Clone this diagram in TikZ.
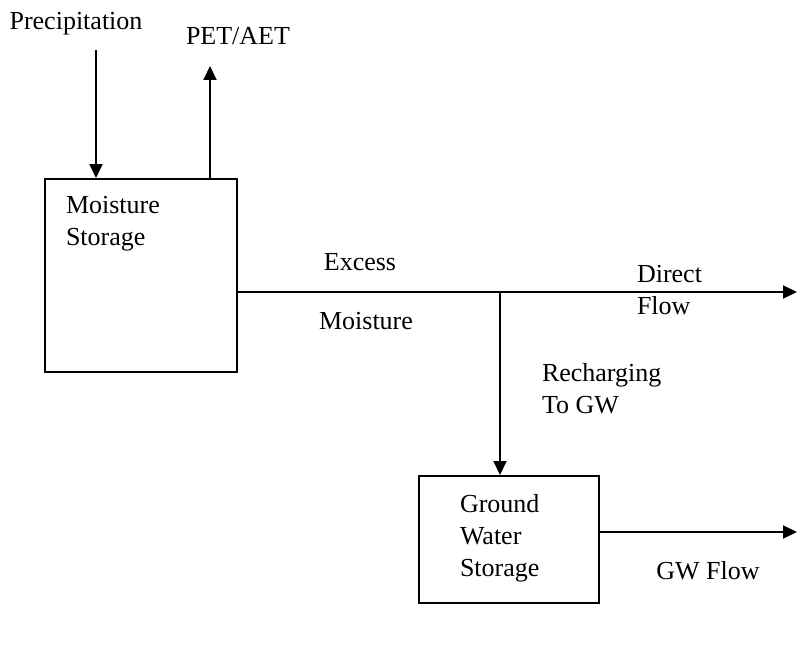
\documentclass[tikz,border=0pt]{standalone}
\usepackage{fontspec}
\setmainfont{Liberation Serif}
\usetikzlibrary{arrows.meta}

\begin{document}
\begin{tikzpicture}[x=0.5pt,y=-0.5pt,line width=1pt,>={Triangle[length=7pt,width=6.5pt]},
    every node/.style={font=\fontsize{13}{16}\selectfont,inner sep=0pt},
    storebox/.style={draw,minimum width=#1,anchor=north west}]
    \useasboundingbox (0,0) rectangle (797,658);
    % storage boxes
    \node[storebox=96pt,minimum height=96.5pt] (ms) at (44,178) {};
    \node[storebox=90pt,minimum height=63.5pt] (gw) at (418,475) {};
    \node[anchor=west,align=left] (mstxt) at (65,224) {Moisture\\Storage};
    \node[anchor=west,align=left] (gwtxt) at (459,538) {Ground\\Water\\Storage};
    % in and out of the moisture store
    \node (prec) at (76,24) {Precipitation};
    \node (pet) at (238,36) {PET/AET};
    \coordinate (ptop) at (96,50);
    \coordinate (etop) at (210,66);
    \draw[->] (ptop) -- (ptop |- ms.north);
    \draw[->] (etop |- ms.north) -- (etop);
    % excess moisture split
    \coordinate (df) at (797,292);
    \coordinate (jn) at (500,292);
    \draw[->] (ms.east |- df) -- (df);
    \draw[->] (jn) -- (jn |- gw.north);
    \node (exc) at (360,262) {Excess};
    \node (moi) at (366,321) {Moisture};
    \node[anchor=west,align=left] (dftxt) at (636,290) {Direct\\Flow};
    \node[anchor=west,align=left] (rech) at (541,389) {Recharging\\To GW};
    % groundwater outflow
    \coordinate (gf) at (797,532);
    \draw[->] (gw.east |- gf) -- (gf);
    \node (gwf) at (708,571) {GW Flow};
\end{tikzpicture}
\end{document}
